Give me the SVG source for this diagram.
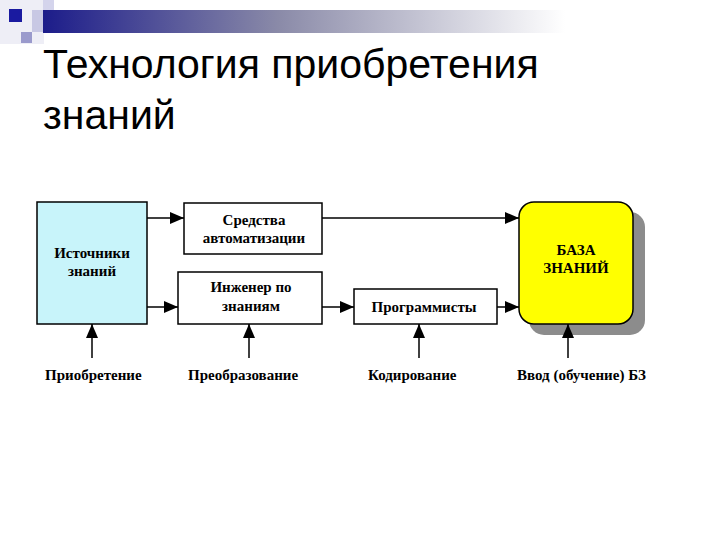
<svg xmlns="http://www.w3.org/2000/svg" width="720" height="540" viewBox="0 0 720 540">
<defs>
<linearGradient id="bar" x1="0" y1="0" x2="1" y2="0">
<stop offset="0" stop-color="#1c1c8a"/>
<stop offset="0.45" stop-color="#8a8aa8"/>
<stop offset="1" stop-color="#ffffff"/>
</linearGradient>
<marker id="ah" viewBox="0 0 14 12" refX="14" refY="6" markerWidth="14" markerHeight="12" markerUnits="userSpaceOnUse" orient="auto">
<path d="M0,0 L14,6 L0,12 Z" fill="#000"/>
</marker>
<style>
.box{stroke:#000;stroke-width:1.5}
.t{font-family:"Liberation Serif","Times New Roman",serif;font-weight:bold;font-size:15px;fill:#000;text-anchor:middle}
.lbl{font-family:"Liberation Serif","Times New Roman",serif;font-weight:bold;font-size:15px;fill:#000}
.title{font-family:"Liberation Sans",Arial,sans-serif;font-size:41px;fill:#000}
.c{stroke:#000;stroke-width:1.5;fill:none;marker-end:url(#ah)}
</style>
</defs>
<rect width="720" height="540" fill="#fff"/>
<g id="decor">
<rect x="0" y="0" width="44" height="44" fill="#eeeef6"/>
<rect x="43" y="0" width="11" height="10" fill="#d4d4ec"/>
<rect x="9" y="9" width="13" height="13" fill="#1a1aa0"/>
<rect x="21" y="32" width="11" height="11" fill="#9a9acc"/>
<rect x="32" y="10" width="12" height="22" fill="#c8c8e4"/>
<rect x="43" y="10" width="522" height="23" fill="url(#bar)"/>
</g>
<g id="title">
<text class="title" x="43" y="78">Технология приобретения</text>
<text class="title" x="43" y="129">знаний</text>
</g>
<g id="sources">
<rect class="box" x="37" y="202" width="110" height="122" fill="#c8f4fa"/>
<text class="t" x="92" y="258">Источники</text>
<text class="t" x="92" y="276">знаний</text>
</g>
<g id="tools">
<rect class="box" x="184" y="203" width="138" height="51" fill="#fff"/>
<text class="t" x="254" y="225">Средства</text>
<text class="t" x="254" y="243">автоматизации</text>
</g>
<g id="engineer">
<rect class="box" x="178" y="272" width="144" height="52" fill="#fff"/>
<text class="t" x="251" y="292">Инженер по</text>
<text class="t" x="251" y="311">знаниям</text>
</g>
<g id="programmers">
<rect class="box" x="354" y="289" width="143" height="35" fill="#fff"/>
<text class="t" x="424" y="312">Программисты</text>
</g>
<g id="kb">
<rect x="529" y="212" width="116" height="123" rx="15" fill="#8c8c8c"/>
<rect class="box" x="519" y="202" width="114" height="122" rx="15" fill="#ffff00"/>
<text class="t" x="576" y="255">БАЗА</text>
<text class="t" x="576" y="273">ЗНАНИЙ</text>
</g>
<g id="connectors">
<line class="c" x1="147" y1="218" x2="184" y2="218"/>
<line class="c" x1="147" y1="307" x2="178" y2="307"/>
<line class="c" x1="322" y1="218" x2="519" y2="218"/>
<line class="c" x1="322" y1="307" x2="354" y2="307"/>
<line class="c" x1="497" y1="307" x2="519" y2="307"/>
<line class="c" x1="92" y1="358" x2="92" y2="324"/>
<line class="c" x1="249" y1="358" x2="249" y2="324"/>
<line class="c" x1="419" y1="358" x2="419" y2="324"/>
<line class="c" x1="568" y1="358" x2="568" y2="324"/>
</g>
<g id="labels">
<text class="lbl" x="45" y="380">Приобретение</text>
<text class="lbl" x="188" y="380">Преобразование</text>
<text class="lbl" x="368" y="380">Кодирование</text>
<text class="lbl" x="517" y="380">Ввод (обучение) БЗ</text>
</g>
</svg>
